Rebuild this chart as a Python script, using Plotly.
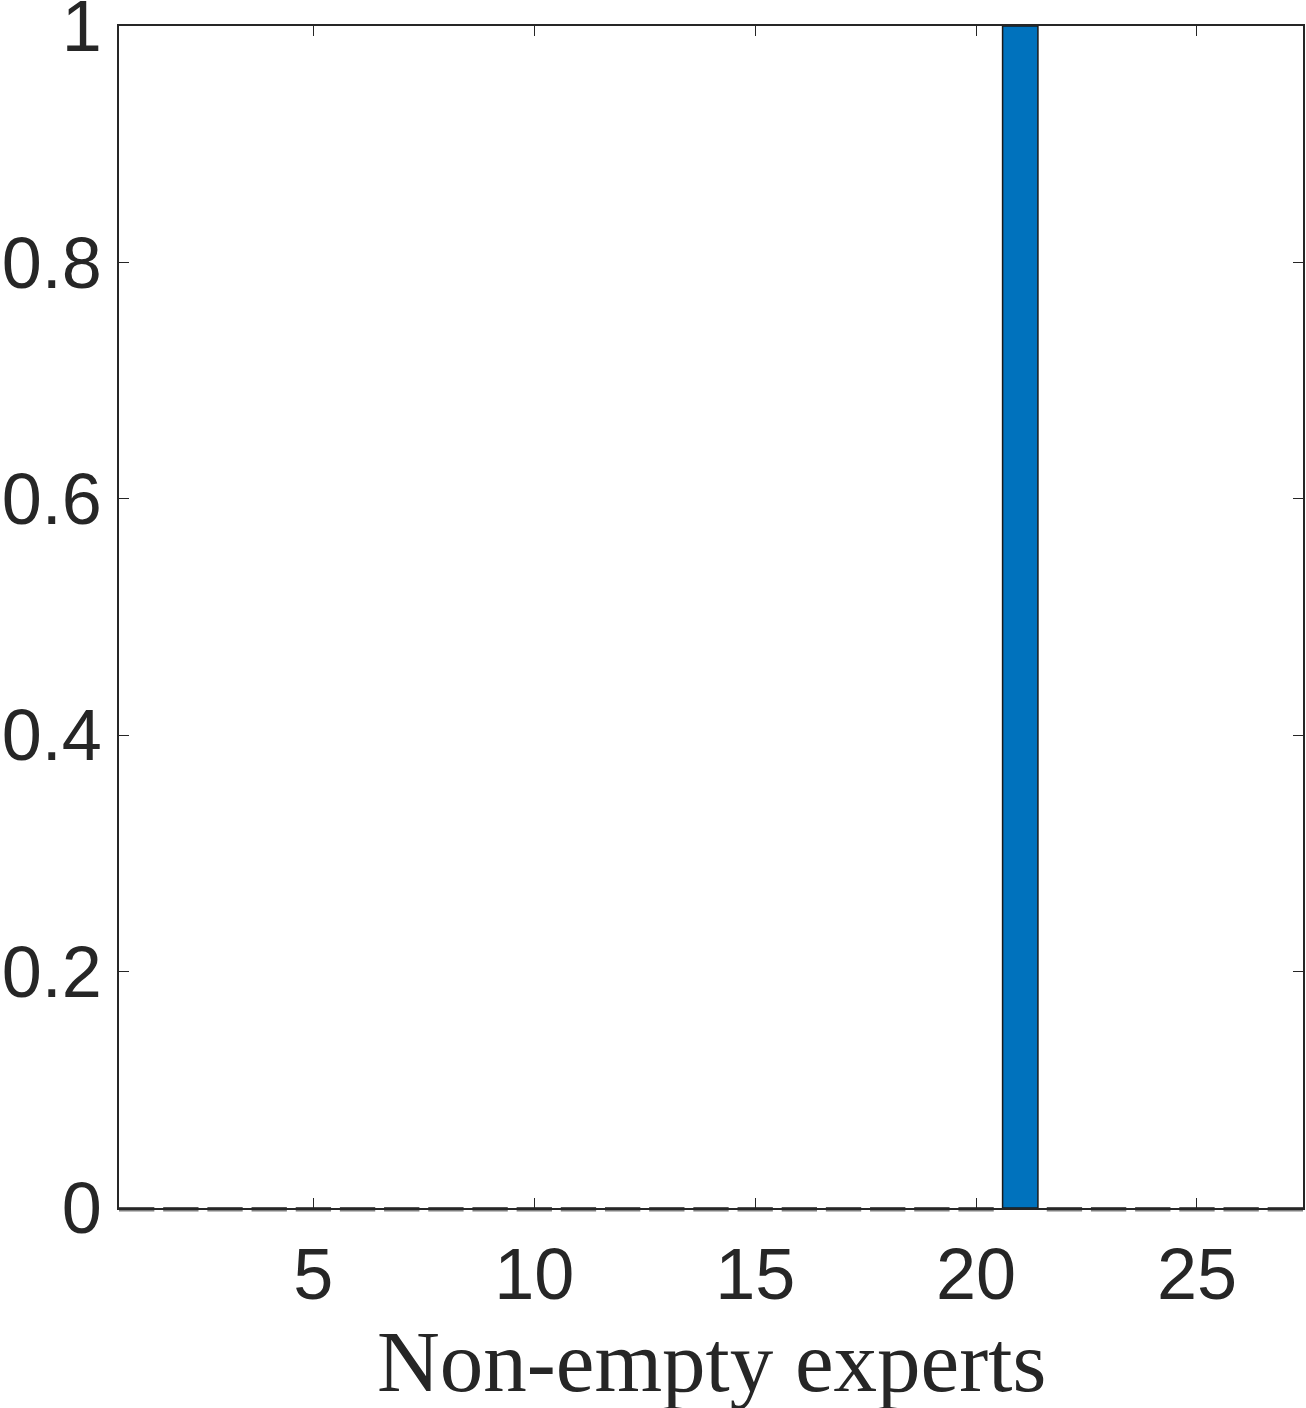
import plotly.graph_objects as go

# Data
experts = list(range(1, 28))
fraction = [0]*20 + [1] + [0]*6
x_tick_vals = [5, 10, 15, 20, 25]
x_tick_text = ["5", "10", "15", "20", "25"]
y_tick_vals = [0, 0.2, 0.4, 0.6, 0.8, 1]
y_tick_text = ["0", "0.2", "0.4", "0.6", "0.8", "1"]
x_label = "Non-empty experts"

BAR_W = 0.8
BAR_COLOR = "#0072BD"
AX_COLOR = "#262626"

fig = go.Figure()
fig.add_trace(go.Bar(
    x=experts, y=fraction, width=BAR_W,
    marker=dict(color=BAR_COLOR, line=dict(color="#1a1a1a", width=1.5)),
    showlegend=False,
))

# edges of zero-height bars (MATLAB draws them just under the axis)
shapes = []
for c, v in zip(experts, fraction):
    if v == 0:
        shapes.append(dict(
            type="rect", xref="x", yref="paper", ysizemode="pixel", yanchor=0,
            x0=c - BAR_W / 2, x1=c + BAR_W / 2, y0=-3.5, y1=0,
            fillcolor="#7f7f7f", line=dict(width=0), layer="below",
        ))

axis_common = dict(
    showgrid=False, zeroline=False, showline=True, linecolor=AX_COLOR, linewidth=1.5,
    mirror="ticks", ticks="inside", ticklen=10, tickwidth=1.2, tickcolor=AX_COLOR,
    automargin=False, ticklabeloverflow="allow",
    tickfont=dict(family="Liberation Sans, Arial", size=72, color=AX_COLOR),
)

fig.update_layout(
    width=1306, height=1408,
    margin=dict(l=119, r=3, t=26, b=200),
    paper_bgcolor="white", plot_bgcolor="white",
    shapes=shapes,
    xaxis=dict(range=[0.6, 27.4], tickvals=x_tick_vals, ticktext=x_tick_text,
               ticklabelstandoff=3, **axis_common),
    yaxis=dict(range=[0, 1], tickvals=y_tick_vals, ticktext=y_tick_text,
               ticklabelstandoff=1, **axis_common),
    annotations=[dict(
        text=x_label, xref="paper", yref="paper", x=0.5, y=0,
        xanchor="center", yanchor="top", yshift=-103, showarrow=False,
        font=dict(family="Liberation Serif, Times New Roman", size=87, color=AX_COLOR),
    )],
)

fig.write_html("out.html", config={"displayModeBar": False},
               post_script="document.body.style.margin='0';")
